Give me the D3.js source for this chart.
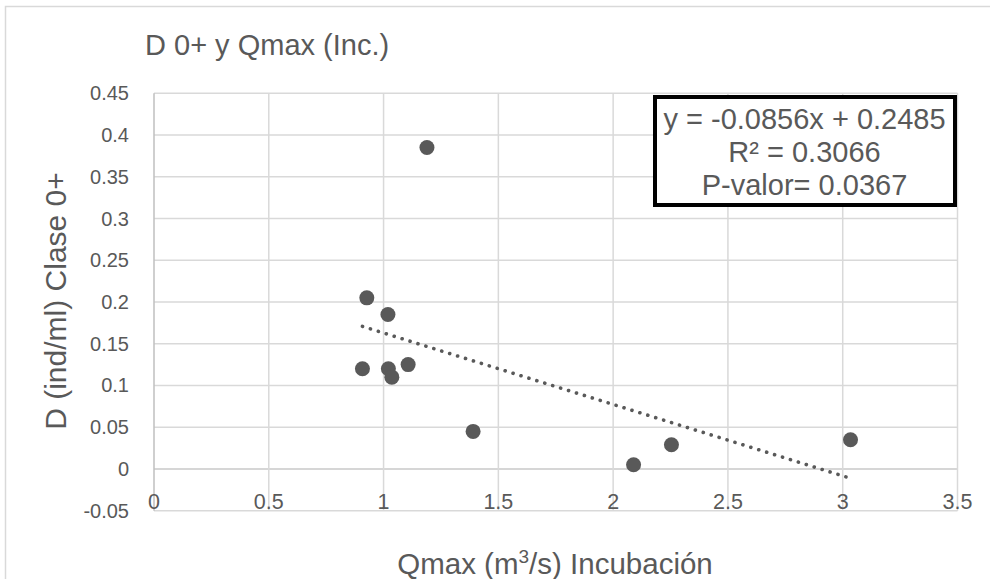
<!DOCTYPE html>
<html>
<head>
<meta charset="utf-8">
<script src="https://cdn.jsdelivr.net/npm/d3@7"></script>
<style>
  html, body { margin: 0; padding: 0; background: #fff; }
  svg { display: block; font-family: "Liberation Sans", Arial, sans-serif; }
</style>
</head>
<body>
<svg id="chart" width="990" height="579"></svg>
<script>
// Observations: peak incubation flow (m³/s) vs. density of class 0+ (ind/ml)
const qmax    = [1.189, 0.927, 1.019, 0.908, 1.021, 1.036, 1.107, 1.390, 2.089, 2.254, 3.034];
const density = [0.385, 0.205, 0.185, 0.120, 0.120, 0.110, 0.125, 0.045, 0.005, 0.029, 0.035];

// Linear trend reported for the series
const slope = -0.0856;
const intercept = 0.2485;
const statsLines = ["y = -0.0856x + 0.2485", "R² = 0.3066", "P-valor= 0.0367"];

// Axis ticks
const xTicks = [0, 0.5, 1, 1.5, 2, 2.5, 3, 3.5];
const yTicks = [-0.05, 0, 0.05, 0.1, 0.15, 0.2, 0.25, 0.3, 0.35, 0.4, 0.45];

const titleText = "D 0+ y Qmax (Inc.)";
const yTitle = "D (ind/ml) Clase 0+";

const ink = "#595959";
const svg = d3.select("#chart");

// Chart frame
svg.append("rect")
  .attr("x", 5.5).attr("y", 6.5)
  .attr("width", 1000).attr("height", 600)
  .attr("fill", "#fff").attr("stroke", "#d9d9d9").attr("stroke-width", 1.5);

const x = d3.scaleLinear().domain([0, 3.5]).range([154, 957.5]);
const y = d3.scaleLinear().domain([-0.05, 0.45]).range([510.7, 93.3]);

// Gridlines
svg.append("g").selectAll("line").data(yTicks).join("line")
  .attr("x1", x(0)).attr("x2", x(3.5))
  .attr("y1", d => y(d)).attr("y2", d => y(d))
  .attr("stroke", d => d === 0 ? "#c8c8c8" : "#d9d9d9")
  .attr("stroke-width", 1.5);
svg.append("g").selectAll("line").data(xTicks).join("line")
  .attr("x1", d => x(d)).attr("x2", d => x(d))
  .attr("y1", y(0.45)).attr("y2", y(-0.05))
  .attr("stroke", d => d === 0 ? "#bfbfbf" : "#d9d9d9")
  .attr("stroke-width", 1.5);

// Y tick labels
svg.append("g").selectAll("text").data(yTicks).join("text")
  .attr("x", 129).attr("y", d => y(d) + 7)
  .attr("text-anchor", "end")
  .attr("font-size", 20).attr("fill", ink)
  .text(d => String(+d.toFixed(2)));

// X tick labels (sit between the 0 line and the lower edge)
svg.append("g").selectAll("text").data(xTicks).join("text")
  .attr("x", d => x(d)).attr("y", 509)
  .attr("text-anchor", "middle")
  .attr("font-size", 21.5).attr("fill", ink)
  .text(d => String(d));

// Trend line over the observed flow range
const [xmin, xmax] = d3.extent(qmax);
svg.append("line")
  .attr("x1", x(xmin)).attr("y1", y(slope * xmin + intercept))
  .attr("x2", x(xmax)).attr("y2", y(slope * xmax + intercept))
  .attr("stroke", ink).attr("stroke-width", 3.6)
  .attr("stroke-linecap", "round")
  .attr("stroke-dasharray", "0.1 8.2");

// Points
svg.append("g").selectAll("circle").data(qmax.map((q, i) => [q, density[i]])).join("circle")
  .attr("cx", d => x(d[0])).attr("cy", d => y(d[1]))
  .attr("r", 7.5).attr("fill", ink);

// Chart title
svg.append("text")
  .attr("x", 145).attr("y", 55)
  .attr("font-size", 29).attr("fill", ink)
  .text(titleText);

// Axis titles
const xt = svg.append("text")
  .attr("x", 555).attr("y", 574)
  .attr("text-anchor", "middle")
  .attr("font-size", 29.5).attr("fill", ink);
xt.append("tspan").text("Qmax (m");
xt.append("tspan").attr("font-size", 19).attr("dy", -11).text("3");
xt.append("tspan").attr("dy", 11).text("/s) Incubación");

svg.append("text")
  .attr("transform", "translate(66,301) rotate(-90)")
  .attr("text-anchor", "middle")
  .attr("font-size", 30).attr("fill", ink)
  .text(yTitle);

// Regression statistics box
svg.append("rect")
  .attr("x", 655).attr("y", 97)
  .attr("width", 300).attr("height", 108)
  .attr("fill", "#fff").attr("stroke", "#000").attr("stroke-width", 4);
svg.append("g").selectAll("text").data(statsLines).join("text")
  .attr("x", 804.5).attr("y", (d, i) => 128.5 + i * 33.4)
  .attr("text-anchor", "middle")
  .attr("font-size", 29).attr("fill", ink)
  .text(d => d);
</script>
</body>
</html>
